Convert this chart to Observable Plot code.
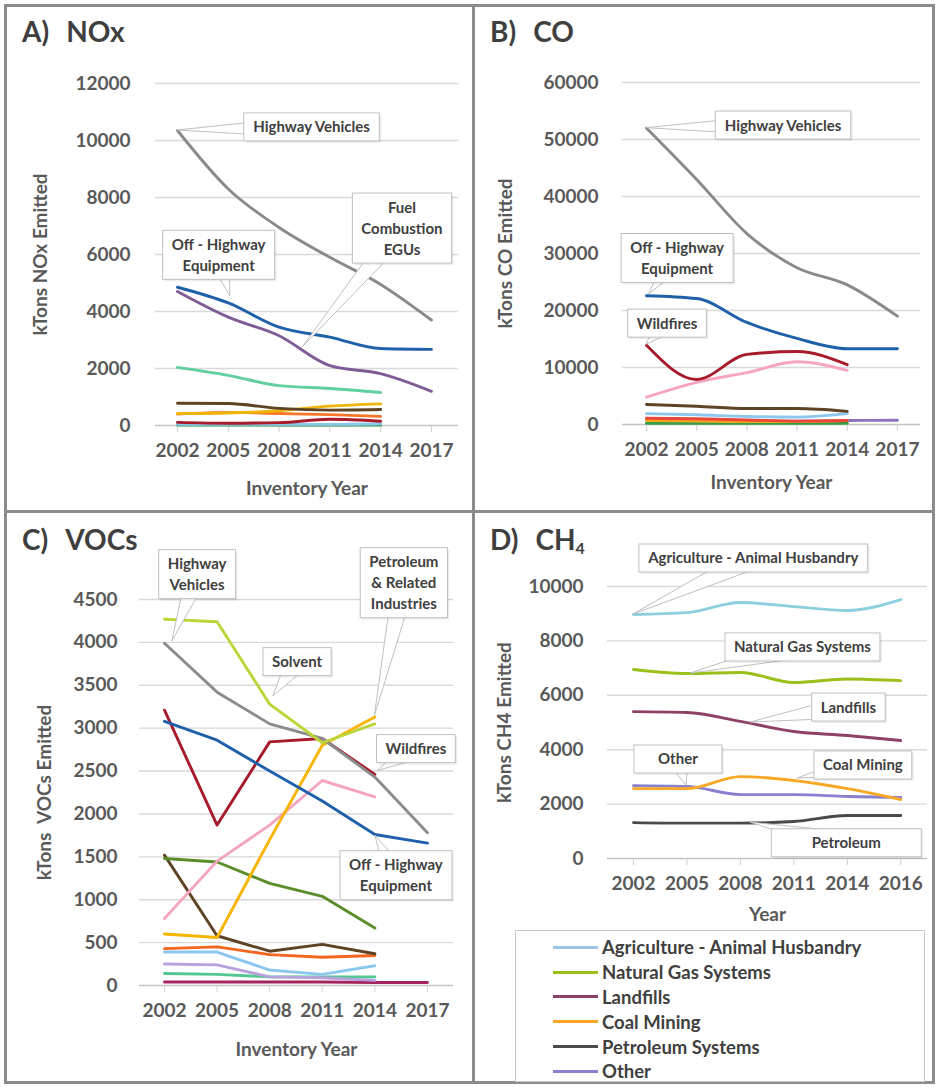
<!DOCTYPE html>
<html><head><meta charset="utf-8">
<script src="https://cdn.jsdelivr.net/npm/d3@7"></script>
<script src="https://cdn.jsdelivr.net/npm/@observablehq/plot@0.6"></script>
<style>
body{margin:0;background:#fff;font-family:Lato,sans-serif;}
#page{position:relative;width:938px;height:1087px;overflow:hidden;background:#fff;}
.frame{position:absolute;border:3px solid #8c8c8c;box-sizing:border-box;background:transparent;}
.title{position:absolute;font:bold 28px Lato,sans-serif;color:#3f3f3f;white-space:pre;line-height:1;}
.title .g{display:inline-block;width:17px;}
.title sub{font-size:16px;vertical-align:-4px;}
.chart{position:absolute;}
.chart svg{overflow:visible;}
#legend{position:absolute;left:515px;top:930px;width:410px;height:152px;border:1px solid #c8c8c8;box-sizing:border-box;padding-top:4px;}
.lrow{display:flex;align-items:center;height:24.8px;font:bold 18.5px Lato,sans-serif;color:#404040;white-space:nowrap;}
.lsw{width:45px;height:3px;margin-left:37px;margin-right:4px;}
</style>
</head><body>
<div id="page"></div>
<script>
// ---------- category labels ----------
const years = ["2002","2005","2008","2011","2014","2017"];
const yearsCH4 = ["2002","2005","2008","2011","2014","2016"];

// ---------- A) NOx ----------
const noxNames = ["Highway Vehicles","Off - Highway Equipment","Fuel Combustion EGUs","Fuel Combustion Industrial","Fuel Combustion Other","Petroleum & Related Industries","Industrial Processes","Wildfires","Waste Disposal","Solvent"];
const noxColors = ["#8a8a8a","#1f60aa","#7f5c96","#62cf9f","#5e4324","#efb50a","#f9772a","#a71b2b","#8cc8ee","#2f9e45"];
const noxValues = [
  [10350, 8300, 6950, 5900, 4950, 3700],
  [4850, 4300, 3450, 3100, 2700, 2670],
  [4700, 3800, 3150, 2100, 1820, 1200],
  [2040, 1760, 1400, 1300, 1160, null],
  [780, 770, 600, 540, 560, null],
  [420, 440, 520, 680, 760, null],
  [400, 460, 420, 380, 320, null],
  [110, 80, 100, 220, 150, null],
  [40, 40, 40, 40, 60, null],
  [20, 20, 20, 20, 20, null]
];
const noxTicks = [0, 2000, 4000, 6000, 8000, 10000, 12000];
const noxNotes = [
  {text: "Highway Vehicles", cx: 2.65, cy: 10460, tx: 0, ty: 10350},
  {text: "Off - Highway\nEquipment", cx: 0.82, cy: 5970, tx: 1.04, ty: 4530},
  {text: "Fuel\nCombustion\nEGUs", cx: 4.43, cy: 6910, tx: 2.47, ty: 2750}
];

// ---------- B) CO ----------
const coNames = ["Highway Vehicles","Off - Highway Equipment","Wildfires","Prescribed Fires","Fuel Combustion Other","Industrial Processes","Miscellaneous","Petroleum & Related Industries","Fuel Combustion EGUs","Solvent"];
const coColors = ["#8a8a8a","#1f60aa","#a71b2b","#f6a5c0","#5e4324","#8cc8ee","#e8473a","#f7a21b","#8a74c0","#2f9e45"];
const coValues = [
  [52000, 43000, 33500, 27500, 24500, 19000],
  [22600, 22100, 17900, 15100, 13300, 13300],
  [13900, 7900, 12300, 12800, 10500, null],
  [4800, 7400, 9100, 11000, 9500, null],
  [3500, 3200, 2800, 2800, 2300, null],
  [1900, 1700, 1400, 1300, 1900, null],
  [1100, 1000, 800, 600, 700, null],
  [700, 600, 500, 500, 700, null],
  [700, 650, 600, 600, 700, 750],
  [200, 200, 200, 200, 200, null]
];
const coTicks = [0, 10000, 20000, 30000, 40000, 50000, 60000];
const coNotes = [
  {text: "Highway Vehicles", cx: 2.73, cy: 52450, tx: 0, ty: 52000},
  {text: "Off - Highway\nEquipment", cx: 0.62, cy: 29120, tx: 0.05, ty: 22800},
  {text: "Wildfires", cx: 0.42, cy: 17700, tx: 0, ty: 14000}
];

// ---------- C) VOCs ----------
const vocNames = ["Solvent","Highway Vehicles","Off - Highway Equipment","Wildfires","Petroleum & Related Industries","Prescribed Fires","Miscellaneous","Storage & Transport","Industrial Processes","Fuel Combustion Other","Chemical Manufacturing","Waste Disposal","Fuel Combustion Industrial"];
const vocColors = ["#bcd63a","#8c8c8c","#1f60aa","#a71b2b","#f7b500","#f6a5c0","#5b8e2b","#5e4324","#f4661f","#8cc8ee","#b7a2de","#52c78f","#a3245f"];
const vocValues = [
  [4270, 4240, 3280, 2830, 3050, null],
  [3990, 3420, 3050, 2880, 2430, 1780],
  [3080, 2860, 2500, 2150, 1760, 1660],
  [3210, 1870, 2840, 2880, 2460, null],
  [600, 560, 1700, 2800, 3130, null],
  [780, 1450, 1870, 2390, 2200, null],
  [1480, 1440, 1190, 1040, 670, null],
  [1520, 580, 400, 480, 370, null],
  [430, 450, 360, 330, 350, null],
  [390, 390, 180, 130, 230, null],
  [250, 240, 100, 90, 60, null],
  [140, 130, 100, 100, 100, null],
  [40, 40, 40, 40, 35, 35]
];
const vocTicks = [0, 500, 1000, 1500, 2000, 2500, 3000, 3500, 4000, 4500];
const vocNotes = [
  {text: "Highway\nVehicles", cx: 0.63, cy: 4790, tx: 0.15, ty: 4010},
  {text: "Solvent", cx: 2.53, cy: 3770, tx: 2.07, ty: 3370},
  {text: "Petroleum\n& Related\nIndustries", cx: 4.56, cy: 4690, tx: 4.0, ty: 3140},
  {text: "Wildfires", cx: 4.79, cy: 2756, tx: 4.05, ty: 2500},
  {text: "Off - Highway\nEquipment", cx: 4.41, cy: 1280, tx: 4.01, ty: 1745}
];

// ---------- D) CH4 ----------
const ch4Names = ["Agriculture - Animal Husbandry","Natural Gas Systems","Landfills","Coal Mining","Petroleum Systems","Other"];
const ch4Colors = ["#8ccfdf","#9cbf1a","#8e4166","#f9a825","#4a4a4a","#8a80d0"];
const ch4LegendColors = ["#9dc3e6","#9cbf1a","#8e4166","#f9a825","#4a4a4a","#8a80d0"];
const ch4Values = [
  [8970, 9040, 9410, 9260, 9120, 9520],
  [6950, 6800, 6840, 6470, 6600, 6540],
  [5400, 5370, 5040, 4670, 4520, 4340],
  [2570, 2570, 3010, 2870, 2570, 2170],
  [1320, 1300, 1300, 1360, 1580, 1580],
  [2680, 2650, 2350, 2350, 2280, 2240]
];
const ch4Ticks = [0, 2000, 4000, 6000, 8000, 10000];
const ch4Notes = [
  {text: "Agriculture - Animal Husbandry", cx: 2.25, cy: 11030, tx: 0, ty: 8970},
  {text: "Natural Gas Systems", cx: 3.17, cy: 7760, tx: 1.07, ty: 6800},
  {text: "Landfills", cx: 4.03, cy: 5550, tx: 2.19, ty: 5000},
  {text: "Other", cx: 0.84, cy: 3640, tx: 0.99, ty: 2680, w: 88},
  {text: "Coal Mining", cx: 4.3, cy: 3420, tx: 3.07, ty: 2940},
  {text: "Petroleum", cx: 3.99, cy: 560, tx: 2.19, ty: 1320, w: 150}
];

// ---------- helpers ----------
const measureCtx = document.createElement("canvas").getContext("2d");
function calloutMark(notes) {
  return (index, scales) => {
    const g = d3.create("svg:g")
      .attr("font-family", "Lato, sans-serif").attr("font-size", 15)
      .attr("font-weight", "bold").attr("fill", "#404040");
    measureCtx.font = "bold 15px Lato";
    for (const n of notes) {
      const lines = n.text.split("\n");
      const tw = Math.max(...lines.map(s => measureCtx.measureText(s).width));
      const bw = Math.max(tw + 18, n.w || 0), bh = lines.length * 21 + 7;
      const cx = scales.x(n.cx), cy = scales.y(n.cy);
      const tx = scales.x(n.tx), ty = scales.y(n.ty);
      const dx = tx - cx, dy = ty - cy, L = Math.hypot(dx, dy) || 1;
      const hw = 11, px = -dy / L * hw, py = dx / L * hw;
      g.append("polygon")
        .attr("points", [[cx + px, cy + py], [tx, ty], [cx - px, cy - py]].join(" "))
        .attr("fill", "#fff").attr("stroke", "#c0c0c0").attr("stroke-width", 1);
      g.append("rect").attr("x", cx - bw / 2 + 2).attr("y", cy - bh / 2 + 2)
        .attr("width", bw).attr("height", bh).attr("fill", "#000").attr("fill-opacity", 0.07);
      g.append("rect").attr("x", cx - bw / 2).attr("y", cy - bh / 2)
        .attr("width", bw).attr("height", bh).attr("fill", "#fff")
        .attr("stroke", "#c0c0c0").attr("stroke-width", 1);
      const t = g.append("text").attr("text-anchor", "middle");
      lines.forEach((s, k) => t.append("tspan").attr("x", cx)
        .attr("y", cy - bh / 2 + 3.5 + 21 * k + 16).text(s));
    }
    return g.node();
  };
}

function panel(cfg) {
  const rows = [];
  for (let s = cfg.names.length - 1; s >= 0; s--) {
    cfg.values[s].forEach((v, i) => { if (v != null) rows.push({series: cfg.names[s], i, value: v}); });
  }
  const plot = Plot.plot({
    width: cfg.w, height: cfg.h,
    marginTop: cfg.mt, marginRight: cfg.mr, marginBottom: cfg.mb, marginLeft: cfg.ml,
    style: {fontFamily: "Lato, sans-serif", fontWeight: "bold", fontSize: "19px", color: "#595959", background: "transparent", overflow: "visible"},
    x: {type: "linear", domain: cfg.xDomain},
    y: {type: "linear", domain: [0, cfg.yTicks[cfg.yTicks.length - 1]]},
    color: {domain: cfg.names, range: cfg.colors},
    marks: [
      Plot.ruleY(cfg.yTicks.slice(1), {stroke: "#d9d9d9", strokeWidth: 1.4}),
      Plot.ruleY([0], {stroke: "#c4c4c4", strokeWidth: 1.4}),
      Plot.axisX({ticks: d3.range(cfg.cats.length), tickFormat: i => cfg.cats[i], tickSize: 7, tickPadding: 11,
        stroke: "#cfcfcf", label: cfg.xLabel, labelAnchor: "center", labelArrow: "none", labelOffset: cfg.xlo}),
      Plot.axisY({ticks: cfg.yTicks, tickFormat: d => String(d), tickSize: 0, tickPadding: cfg.ytp,
        label: cfg.yLabel, labelAnchor: "center", labelArrow: "none", labelOffset: cfg.ylo}),
      Plot.line(rows, {x: "i", y: "value", z: "series", stroke: "series", strokeWidth: 2.9, curve: cfg.curve}),
      calloutMark(cfg.notes)
    ]
  });
  const div = document.createElement("div");
  div.className = "chart";
  div.style.left = cfg.left + "px"; div.style.top = cfg.top + "px";
  div.style.width = cfg.w + "px"; div.style.height = cfg.h + "px";
  div.appendChild(plot);
  document.getElementById("page").appendChild(div);
}

panel({left: 5, top: 5, w: 468, h: 505, mt: 78, mb: 85, ml: 150, mr: 15, xDomain: [-0.433, 5.533],
  cats: years, names: noxNames, colors: noxColors, values: noxValues, yTicks: noxTicks, notes: noxNotes,
  xLabel: "Inventory Year", yLabel: "kTons NOx Emitted", xlo: 69, ylo: 122, ytp: 25, curve: "monotone-x"});
panel({left: 473, top: 5, w: 462, h: 505, mt: 77, mb: 86, ml: 149, mr: 15, xDomain: [-0.478, 5.46],
  cats: years, names: coNames, colors: coColors, values: coValues, yTicks: coTicks, notes: coNotes,
  xLabel: "Inventory Year", yLabel: "kTons CO Emitted", xlo: 64, ylo: 124, ytp: 24, curve: "monotone-x"});
panel({left: 5, top: 510, w: 468, h: 575, mt: 89, mb: 100, ml: 134, mr: 20, xDomain: [-0.475, 5.495],
  cats: years, names: vocNames, colors: vocColors, values: vocValues, yTicks: vocTicks, notes: vocNotes,
  xLabel: "Inventory Year", yLabel: "kTons  VOCs Emitted", xlo: 70, ylo: 102, ytp: 22, curve: "linear"});
panel({left: 473, top: 510, w: 462, h: 415, mt: 76, mb: 67, ml: 134, mr: 8, xDomain: [-0.486, 5.5],
  cats: yearsCH4, names: ch4Names, colors: ch4Colors, values: ch4Values, yTicks: ch4Ticks, notes: ch4Notes,
  xLabel: "Year", yLabel: "kTons CH4 Emitted", xlo: 62, ylo: 110, ytp: 24, curve: "monotone-x"});

// ---------- frames & titles ----------
const page = document.getElementById("page");
[[4, 4, 471, 509], [472, 4, 463, 509], [4, 510, 471, 574], [472, 510, 463, 574]].forEach(([l, t, w, h]) => {
  const f = document.createElement("div");
  f.className = "frame";
  Object.assign(f.style, {left: l + "px", top: t + "px", width: w + "px", height: h + "px"});
  page.appendChild(f);
});
const titles = [
  {html: "A)<span class='g'></span>NOx", left: 22, top: 17},
  {html: "B)<span class='g'></span>CO", left: 490, top: 17},
  {html: "C)<span class='g'></span>VOCs", left: 22, top: 525},
  {html: "D)<span class='g'></span>CH<sub>4</sub>", left: 490, top: 525}
];
titles.forEach(t => {
  const d = document.createElement("div");
  d.className = "title"; d.innerHTML = t.html;
  d.style.left = t.left + "px"; d.style.top = t.top + "px";
  page.appendChild(d);
});

// ---------- legend for D ----------
const lg = document.createElement("div");
lg.id = "legend";
ch4Names.forEach((n, i) => {
  const r = document.createElement("div"); r.className = "lrow";
  const sw = document.createElement("span"); sw.className = "lsw"; sw.style.background = ch4LegendColors[i];
  const tx = document.createElement("span"); tx.textContent = n;
  r.appendChild(sw); r.appendChild(tx); lg.appendChild(r);
});
page.appendChild(lg);
</script>
</body></html>
